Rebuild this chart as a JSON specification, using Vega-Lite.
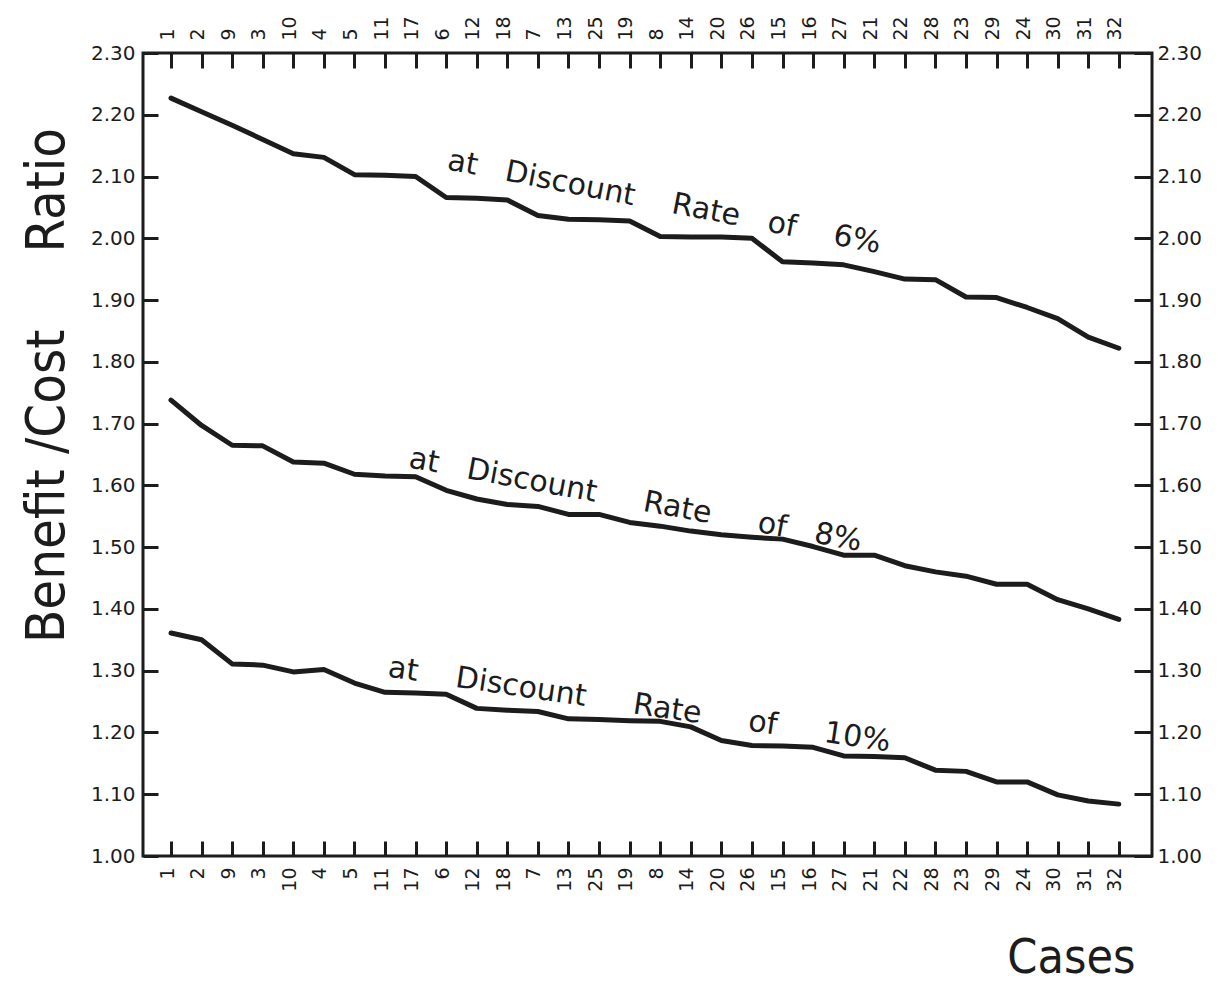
{
  "$schema": "https://vega.github.io/schema/vega-lite/v6.json",
  "width": 1009,
  "height": 803,
  "autosize": {"type": "none"},
  "padding": {"left": 143, "top": 53, "right": 73, "bottom": 129},
  "background": "white",
  "config": {
    "font": "DejaVu Sans",
    "view": {"stroke": "#1c1c1c", "strokeWidth": 3},
    "axis": {
      "domain": false,
      "grid": false,
      "tickColor": "#1c1c1c",
      "tickWidth": 3,
      "tickSize": -15,
      "labelColor": "#1c1c1c",
      "labelFont": "DejaVu Sans",
      "titleColor": "#1c1c1c",
      "titleFontWeight": "normal"
    }
  },
  "datasets": {
    "ratios": [
      {"case": "1", "rate": "6%", "ratio": 2.227},
      {"case": "2", "rate": "6%", "ratio": 2.205},
      {"case": "9", "rate": "6%", "ratio": 2.183},
      {"case": "3", "rate": "6%", "ratio": 2.160},
      {"case": "10", "rate": "6%", "ratio": 2.137},
      {"case": "4", "rate": "6%", "ratio": 2.131},
      {"case": "5", "rate": "6%", "ratio": 2.103},
      {"case": "11", "rate": "6%", "ratio": 2.102},
      {"case": "17", "rate": "6%", "ratio": 2.100},
      {"case": "6", "rate": "6%", "ratio": 2.066},
      {"case": "12", "rate": "6%", "ratio": 2.065},
      {"case": "18", "rate": "6%", "ratio": 2.062},
      {"case": "7", "rate": "6%", "ratio": 2.037},
      {"case": "13", "rate": "6%", "ratio": 2.031},
      {"case": "25", "rate": "6%", "ratio": 2.030},
      {"case": "19", "rate": "6%", "ratio": 2.028},
      {"case": "8", "rate": "6%", "ratio": 2.003},
      {"case": "14", "rate": "6%", "ratio": 2.002},
      {"case": "20", "rate": "6%", "ratio": 2.002},
      {"case": "26", "rate": "6%", "ratio": 2.000},
      {"case": "15", "rate": "6%", "ratio": 1.962},
      {"case": "16", "rate": "6%", "ratio": 1.960},
      {"case": "27", "rate": "6%", "ratio": 1.957},
      {"case": "21", "rate": "6%", "ratio": 1.946},
      {"case": "22", "rate": "6%", "ratio": 1.934},
      {"case": "28", "rate": "6%", "ratio": 1.933},
      {"case": "23", "rate": "6%", "ratio": 1.905},
      {"case": "29", "rate": "6%", "ratio": 1.904},
      {"case": "24", "rate": "6%", "ratio": 1.888},
      {"case": "30", "rate": "6%", "ratio": 1.870},
      {"case": "31", "rate": "6%", "ratio": 1.840},
      {"case": "32", "rate": "6%", "ratio": 1.822},

      {"case": "1", "rate": "8%", "ratio": 1.738},
      {"case": "2", "rate": "8%", "ratio": 1.697},
      {"case": "9", "rate": "8%", "ratio": 1.665},
      {"case": "3", "rate": "8%", "ratio": 1.664},
      {"case": "10", "rate": "8%", "ratio": 1.638},
      {"case": "4", "rate": "8%", "ratio": 1.636},
      {"case": "5", "rate": "8%", "ratio": 1.618},
      {"case": "11", "rate": "8%", "ratio": 1.615},
      {"case": "17", "rate": "8%", "ratio": 1.614},
      {"case": "6", "rate": "8%", "ratio": 1.592},
      {"case": "12", "rate": "8%", "ratio": 1.578},
      {"case": "18", "rate": "8%", "ratio": 1.569},
      {"case": "7", "rate": "8%", "ratio": 1.566},
      {"case": "13", "rate": "8%", "ratio": 1.553},
      {"case": "25", "rate": "8%", "ratio": 1.553},
      {"case": "19", "rate": "8%", "ratio": 1.540},
      {"case": "8", "rate": "8%", "ratio": 1.534},
      {"case": "14", "rate": "8%", "ratio": 1.526},
      {"case": "20", "rate": "8%", "ratio": 1.520},
      {"case": "26", "rate": "8%", "ratio": 1.516},
      {"case": "15", "rate": "8%", "ratio": 1.513},
      {"case": "16", "rate": "8%", "ratio": 1.501},
      {"case": "27", "rate": "8%", "ratio": 1.487},
      {"case": "21", "rate": "8%", "ratio": 1.487},
      {"case": "22", "rate": "8%", "ratio": 1.470},
      {"case": "28", "rate": "8%", "ratio": 1.460},
      {"case": "23", "rate": "8%", "ratio": 1.453},
      {"case": "29", "rate": "8%", "ratio": 1.440},
      {"case": "24", "rate": "8%", "ratio": 1.440},
      {"case": "30", "rate": "8%", "ratio": 1.415},
      {"case": "31", "rate": "8%", "ratio": 1.400},
      {"case": "32", "rate": "8%", "ratio": 1.383},

      {"case": "1", "rate": "10%", "ratio": 1.361},
      {"case": "2", "rate": "10%", "ratio": 1.350},
      {"case": "9", "rate": "10%", "ratio": 1.311},
      {"case": "3", "rate": "10%", "ratio": 1.309},
      {"case": "10", "rate": "10%", "ratio": 1.298},
      {"case": "4", "rate": "10%", "ratio": 1.302},
      {"case": "5", "rate": "10%", "ratio": 1.280},
      {"case": "11", "rate": "10%", "ratio": 1.265},
      {"case": "17", "rate": "10%", "ratio": 1.264},
      {"case": "6", "rate": "10%", "ratio": 1.262},
      {"case": "12", "rate": "10%", "ratio": 1.239},
      {"case": "18", "rate": "10%", "ratio": 1.236},
      {"case": "7", "rate": "10%", "ratio": 1.234},
      {"case": "13", "rate": "10%", "ratio": 1.222},
      {"case": "25", "rate": "10%", "ratio": 1.221},
      {"case": "19", "rate": "10%", "ratio": 1.219},
      {"case": "8", "rate": "10%", "ratio": 1.218},
      {"case": "14", "rate": "10%", "ratio": 1.209},
      {"case": "20", "rate": "10%", "ratio": 1.187},
      {"case": "26", "rate": "10%", "ratio": 1.179},
      {"case": "15", "rate": "10%", "ratio": 1.178},
      {"case": "16", "rate": "10%", "ratio": 1.176},
      {"case": "27", "rate": "10%", "ratio": 1.162},
      {"case": "21", "rate": "10%", "ratio": 1.161},
      {"case": "22", "rate": "10%", "ratio": 1.159},
      {"case": "28", "rate": "10%", "ratio": 1.139},
      {"case": "23", "rate": "10%", "ratio": 1.137},
      {"case": "29", "rate": "10%", "ratio": 1.120},
      {"case": "24", "rate": "10%", "ratio": 1.120},
      {"case": "30", "rate": "10%", "ratio": 1.099},
      {"case": "31", "rate": "10%", "ratio": 1.089},
      {"case": "32", "rate": "10%", "ratio": 1.084}
    ],
    "curveLabels": [
      {"rate": "6%", "case": "6", "ratio": 2.112, "label": "at\u00a0\u00a0\u00a0Discount\u00a0\u00a0\u00a0\u00a0Rate\u00a0\u00a0\u00a0of\u00a0\u00a0\u00a0\u00a06%"},
      {"rate": "8%", "case": "17", "ratio": 1.627, "label": "at\u00a0\u00a0\u00a0Discount\u00a0\u00a0\u00a0\u00a0\u00a0Rate\u00a0\u00a0\u00a0\u00a0\u00a0of\u00a0\u00a0\u00a08%"},
      {"rate": "10%", "case": "11", "ratio": 1.291, "label": "at\u00a0\u00a0\u00a0\u00a0Discount\u00a0\u00a0\u00a0\u00a0\u00a0Rate\u00a0\u00a0\u00a0\u00a0\u00a0of\u00a0\u00a0\u00a0\u00a0\u00a010%"}
    ]
  },
  "resolve": {"axis": {"x": "independent", "y": "independent"}},
  "layer": [
    {
      "data": {"name": "ratios"},
      "mark": {"type": "line", "color": "#1c1c1c", "strokeWidth": 5, "strokeCap": "round", "strokeJoin": "round"},
      "encoding": {
        "x": {
          "field": "case",
          "type": "ordinal",
          "sort": ["1","2","9","3","10","4","5","11","17","6","12","18","7","13","25","19","8","14","20","26","15","16","27","21","22","28","23","29","24","30","31","32"],
          "scale": {
            "type": "point",
            "domain": ["1","2","9","3","10","4","5","11","17","6","12","18","7","13","25","19","8","14","20","26","15","16","27","21","22","28","23","29","24","30","31","32"],
            "padding": 1.027,
            "align": 0.458
          },
          "axis": {
            "orient": "bottom",
            "labelAngle": 270,
            "labelFontSize": 19,
            "labelPadding": 26,
            "labelOffset": -4,
            "title": "Cases",
            "titleFont": "DejaVu Sans Condensed, DejaVu Sans",
            "titleFontSize": 48,
            "titleAnchor": null,
            "titleAlign": "right",
            "titleBaseline": "alphabetic",
            "titleAngle": 0,
            "titleX": 992,
            "titleY": 116
          }
        },
        "y": {
          "field": "ratio",
          "type": "quantitative",
          "scale": {"domain": [1.0, 2.3], "nice": false, "zero": false},
          "axis": {
            "orient": "left",
            "values": [1.0, 1.1, 1.2, 1.3, 1.4, 1.5, 1.6, 1.7, 1.8, 1.9, 2.0, 2.1, 2.2, 2.3],
            "format": ".2f",
            "labelFontSize": 20,
            "labelPadding": 23,
            "title": "Benefit /Cost\u00a0\u00a0\u00a0\u00a0\u00a0Ratio",
            "titleFont": "DejaVu Sans Condensed, DejaVu Sans",
            "titleFontSize": 54,
            "titleAnchor": null,
            "titleAngle": 270,
            "titleAlign": "center",
            "titleBaseline": "alphabetic",
            "titleX": -80,
            "titleY": 332
          }
        },
        "detail": {"field": "rate", "type": "nominal"}
      }
    },
    {
      "data": {"name": "curveLabels"},
      "transform": [{"filter": "datum.rate === '6%'"}],
      "mark": {"type": "text", "angle": 11, "align": "left", "baseline": "alphabetic", "fontSize": 30, "color": "#1c1c1c", "font": "DejaVu Sans"},
      "encoding": {
        "x": {
          "field": "case",
          "type": "ordinal",
          "axis": {
            "orient": "top",
            "labelAngle": 270,
            "labelFontSize": 19,
            "labelPadding": 28,
            "labelOffset": -4,
            "title": null
          }
        },
        "y": {
          "field": "ratio",
          "type": "quantitative",
          "axis": {
            "orient": "right",
            "values": [1.0, 1.1, 1.2, 1.3, 1.4, 1.5, 1.6, 1.7, 1.8, 1.9, 2.0, 2.1, 2.2, 2.3],
            "format": ".2f",
            "labelFontSize": 20,
            "labelPadding": 23,
            "tickSize": -18,
            "title": null
          }
        },
        "text": {"field": "label"}
      }
    },
    {
      "data": {"name": "curveLabels"},
      "transform": [{"filter": "datum.rate === '8%'"}],
      "mark": {"type": "text", "angle": 10.5, "align": "left", "baseline": "alphabetic", "fontSize": 30, "color": "#1c1c1c", "font": "DejaVu Sans", "dx": -8},
      "encoding": {
        "x": {"field": "case", "type": "ordinal", "axis": null},
        "y": {"field": "ratio", "type": "quantitative", "axis": null},
        "text": {"field": "label"}
      }
    },
    {
      "data": {"name": "curveLabels"},
      "transform": [{"filter": "datum.rate === '10%'"}],
      "mark": {"type": "text", "angle": 8.5, "align": "left", "baseline": "alphabetic", "fontSize": 30, "color": "#1c1c1c", "font": "DejaVu Sans", "dx": 2},
      "encoding": {
        "x": {"field": "case", "type": "ordinal", "axis": null},
        "y": {"field": "ratio", "type": "quantitative", "axis": null},
        "text": {"field": "label"}
      }
    }
  ]
}
